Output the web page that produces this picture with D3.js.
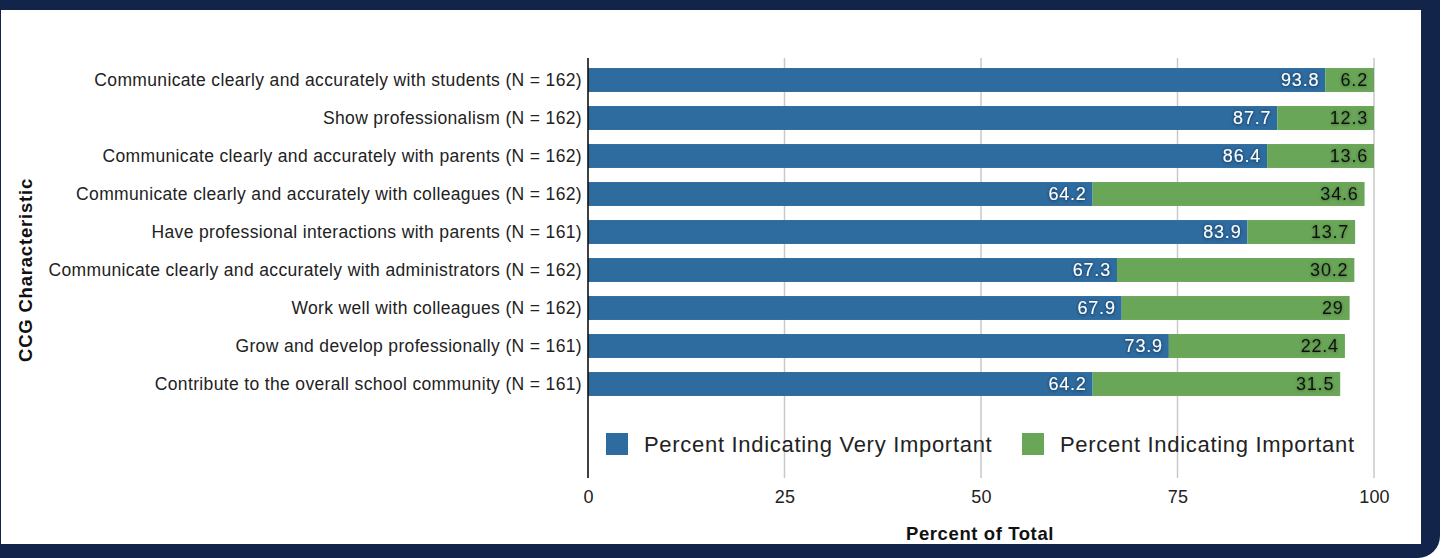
<!DOCTYPE html>
<html>
<head>
<meta charset="utf-8">
<script src="https://cdn.jsdelivr.net/npm/d3@7"></script>
<style>
  html, body { margin: 0; padding: 0; background: #ffffff; }
  svg { display: block; font-family: "Liberation Sans", Arial, Helvetica, sans-serif; }
</style>
</head>
<body>
<svg id="chart" width="1443" height="558"></svg>
<script>
// Survey characteristics (top to bottom)
const categories = [
  "Communicate clearly and accurately with students (N = 162)",
  "Show professionalism (N = 162)",
  "Communicate clearly and accurately with parents (N = 162)",
  "Communicate clearly and accurately with colleagues (N = 162)",
  "Have professional interactions with parents (N = 161)",
  "Communicate clearly and accurately with administrators (N = 162)",
  "Work well with colleagues (N = 162)",
  "Grow and develop professionally (N = 161)",
  "Contribute to the overall school community (N = 161)"
];
const veryImportant = [93.8, 87.7, 86.4, 64.2, 83.9, 67.3, 67.9, 73.9, 64.2];
const important     = [6.2, 12.3, 13.6, 34.6, 13.7, 30.2, 29, 22.4, 31.5];
const seriesNames = ["Percent Indicating Very Important", "Percent Indicating Important"];
const xTicks = [0, 25, 50, 75, 100];

const colors = ["#2e6b9f", "#6aa658"];
const svg = d3.select("#chart");

// Frame: navy border with a white panel inside
svg.append("rect").attr("x", -20).attr("y", -20).attr("width", 1460).attr("height", 578)
  .attr("rx", 22).attr("fill", "#13244b");
svg.append("rect").attr("x", 1).attr("y", 10).attr("width", 1420).attr("height", 534)
  .attr("fill", "#ffffff");

const defs = svg.append("defs");
defs.append("filter").attr("id", "shadowLight")
  .attr("x", "-20%").attr("y", "-40%").attr("width", "140%").attr("height", "180%")
  .append("feDropShadow").attr("dx", 0).attr("dy", 0.5).attr("stdDeviation", 1.4)
  .attr("flood-color", "#0b2040").attr("flood-opacity", 0.9);
defs.append("filter").attr("id", "shadowDark")
  .attr("x", "-20%").attr("y", "-40%").attr("width", "140%").attr("height", "180%")
  .append("feDropShadow").attr("dx", 0).attr("dy", 0.5).attr("stdDeviation", 1.4)
  .attr("flood-color", "#2c4a22").attr("flood-opacity", 0.7);

const x = d3.scaleLinear().domain([0, 100]).range([588, 1374]);
const y = d3.scaleBand().domain(categories).range([61, 403]).paddingInner(0.37).paddingOuter(0.185);

const plotTop = 58, plotBottom = 478;

// Vertical gridlines
svg.append("g").selectAll("line").data(xTicks.slice(1)).join("line")
  .attr("x1", d => x(d)).attr("x2", d => x(d))
  .attr("y1", plotTop).attr("y2", plotBottom)
  .attr("stroke", "#c9c9c9").attr("stroke-width", 1.5);

// Stacked bars
const rows = categories.map((c, i) => ({ cat: c, v: veryImportant[i], imp: important[i] }));
const barG = svg.append("g");
barG.selectAll("rect.v").data(rows).join("rect").attr("class", "v")
  .attr("x", x(0)).attr("y", d => y(d.cat))
  .attr("width", d => x(d.v) - x(0)).attr("height", y.bandwidth())
  .attr("fill", colors[0]);
barG.selectAll("rect.i").data(rows).join("rect").attr("class", "i")
  .attr("x", d => x(d.v)).attr("y", d => y(d.cat))
  .attr("width", d => x(d.v + d.imp) - x(d.v)).attr("height", y.bandwidth())
  .attr("fill", colors[1]);

// Value labels at the inner end of each segment
const labG = svg.append("g").style("font-size", "18px").style("letter-spacing", "0.8px");
labG.selectAll("text.v").data(rows).join("text").attr("class", "v")
  .attr("x", d => x(d.v) - 6).attr("y", d => y(d.cat) + y.bandwidth() / 2)
  .attr("dy", "0.36em").attr("text-anchor", "end")
  .attr("fill", "#ffffff").attr("filter", "url(#shadowLight)")
  .text(d => d.v);
labG.selectAll("text.i").data(rows).join("text").attr("class", "i")
  .attr("x", d => x(d.v + d.imp) - 6).attr("y", d => y(d.cat) + y.bandwidth() / 2)
  .attr("dy", "0.36em").attr("text-anchor", "end")
  .attr("fill", "#111111").attr("filter", "url(#shadowDark)")
  .text(d => d.imp);

// Category axis
const yAxis = svg.append("g").attr("transform", `translate(${x(0)},0)`)
  .call(d3.axisLeft(y).tickSize(0).tickPadding(6));
yAxis.select(".domain").remove();
yAxis.selectAll("text").style("font-size", "17.5px").style("letter-spacing", "0.35px").attr("fill", "#222");
svg.append("line").attr("x1", x(0)).attr("x2", x(0)).attr("y1", plotTop).attr("y2", plotBottom)
  .attr("stroke", "#111").attr("stroke-width", 1.6);

// Value axis
const xAxis = svg.append("g").attr("transform", `translate(0,${plotBottom})`)
  .call(d3.axisBottom(x).tickValues(xTicks).tickSize(0).tickPadding(12));
xAxis.select(".domain").remove();
xAxis.selectAll("text").style("font-size", "18px").style("letter-spacing", "0.2px").attr("fill", "#222");

// Axis titles
svg.append("text").attr("x", 980).attr("y", 540).attr("text-anchor", "middle")
  .style("font-size", "18.5px").style("letter-spacing", "0.6px").style("font-weight", "bold").attr("fill", "#111")
  .text("Percent of Total");
svg.append("text").attr("transform", "translate(32,270) rotate(-90)").attr("text-anchor", "middle")
  .style("font-size", "18.5px").style("letter-spacing", "0.8px").style("font-weight", "bold").attr("fill", "#111")
  .text("CCG Characteristic");

// Legend
const legendX = [606, 1022];
const lg = svg.append("g").selectAll("g").data(seriesNames).join("g")
  .attr("transform", (d, i) => `translate(${legendX[i]},433)`);
lg.append("rect").attr("width", 22).attr("height", 22).attr("fill", (d, i) => colors[i]);
lg.append("text").attr("x", 38).attr("y", 11).attr("dy", "0.35em")
  .style("font-size", "22px").style("letter-spacing", "0.7px").attr("fill", "#222").text(d => d);
</script>
</body>
</html>
